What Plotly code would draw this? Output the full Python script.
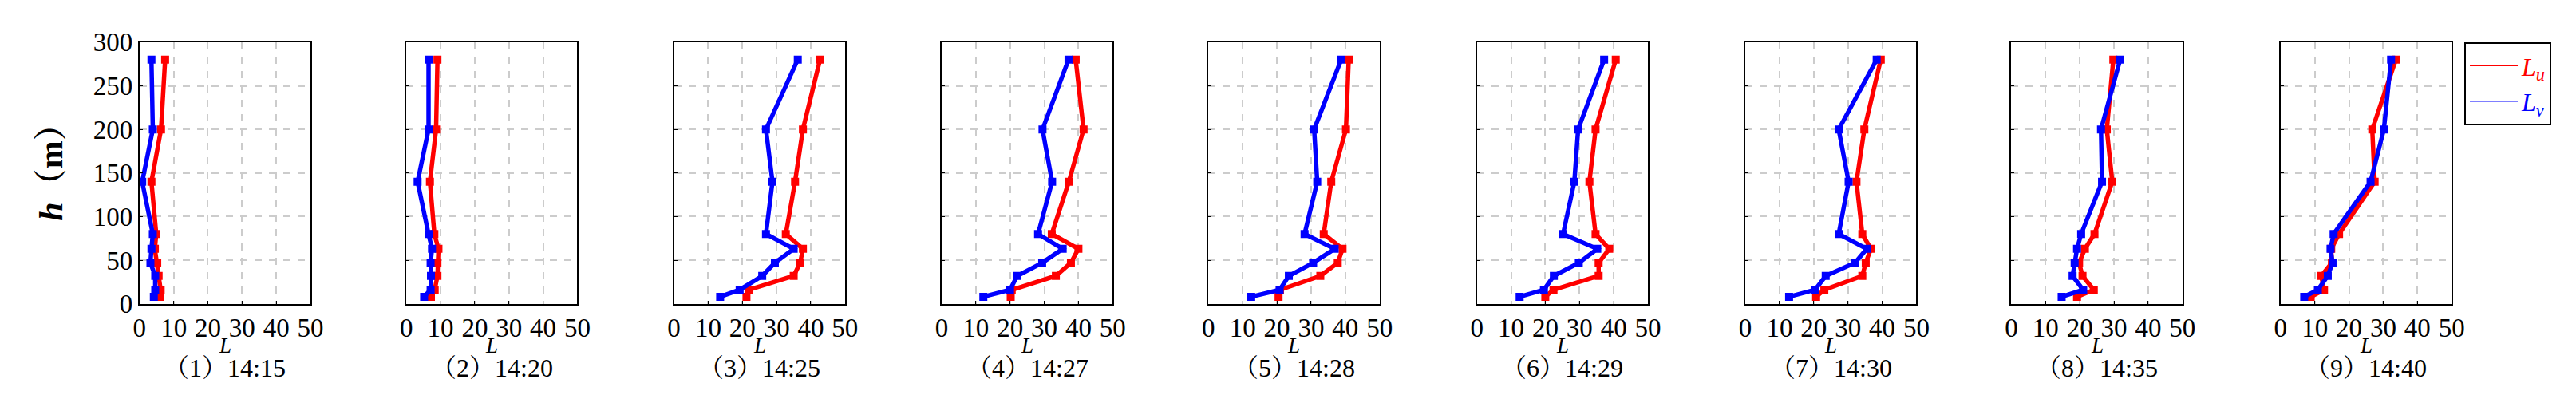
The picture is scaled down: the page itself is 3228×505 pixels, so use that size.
import plotly.graph_objects as go

# heights (m) shared by all profiles
heights = [8, 16, 32, 47, 63, 80, 140, 200, 280]

times = ["14:15", "14:20", "14:25", "14:27", "14:28", "14:29", "14:30", "14:35", "14:40"]

Lu = [
    [6.0, 6.2, 5.6, 5.2, 4.5, 4.9, 3.5, 6.3, 7.5],
    [7.2, 8.3, 9.1, 9.1, 9.4, 8.2, 6.9, 8.7, 9.1],
    [21.2, 21.9, 35.0, 36.9, 37.7, 32.7, 35.4, 37.7, 42.7],
    [20.2, 20.5, 33.4, 37.8, 40.0, 32.2, 37.2, 41.5, 39.2],
    [20.5, 20.9, 32.7, 37.8, 39.2, 33.7, 35.9, 40.2, 41.0],
    [20.0, 22.4, 35.6, 35.6, 38.7, 34.7, 32.9, 34.7, 40.6],
    [20.7, 23.1, 34.2, 35.2, 36.7, 34.2, 32.5, 34.8, 39.6],
    [19.2, 24.1, 20.8, 19.8, 21.5, 24.3, 29.5, 27.9, 29.8],
    [8.8, 12.7, 11.9, 15.0, 14.8, 17.1, 27.5, 26.8, 33.7],
]

Lv = [
    [4.2, 4.6, 4.6, 3.2, 3.5, 3.9, 0.8, 3.9, 3.5],
    [5.2, 7.1, 7.2, 7.1, 7.5, 6.5, 3.3, 6.5, 6.5],
    [13.5, 19.2, 25.8, 29.5, 35.0, 26.9, 28.8, 26.9, 36.2],
    [12.2, 20.0, 22.1, 29.4, 35.4, 28.2, 32.3, 29.5, 37.1],
    [12.5, 20.8, 23.5, 30.6, 36.9, 28.1, 31.8, 30.9, 38.8],
    [12.5, 19.6, 22.5, 29.8, 35.2, 25.2, 28.5, 29.6, 37.2],
    [12.8, 20.4, 23.5, 32.1, 35.5, 27.3, 30.2, 27.3, 38.4],
    [14.7, 21.0, 17.9, 18.5, 19.2, 20.4, 26.5, 26.2, 31.8],
    [6.9, 10.9, 13.8, 15.2, 14.6, 15.5, 26.3, 30.2, 32.3],
]

W, H = 3228, 505
left_px = [160, 497, 835, 1173, 1510, 1849, 2188, 2524, 2864]
panel_w = 216
y_dom = [1 - 383 / H, 1 - 30 / H]
FONT = "Liberation Serif, Noto Serif CJK SC, Noto Sans CJK SC, serif"

fig = go.Figure()
annotations = []

for i in range(9):
    ax = "" if i == 0 else str(i + 1)
    x0 = left_px[i] / W
    x1 = (left_px[i] + panel_w) / W
    for vals, col in ((Lu[i], "red"), (Lv[i], "blue")):
        fig.add_trace(go.Scatter(
            x=vals, y=heights, mode="lines+markers",
            line=dict(color=col, width=5.5),
            marker=dict(symbol="square", size=10, color=col),
            xaxis="x" + ax, yaxis="y" + ax, showlegend=False,
        ))
    fig.update_layout(**{
        "xaxis" + ax: dict(
            domain=[x0, x1], range=[0, 50], tickvals=[0, 10, 20, 30, 40, 50],
            showgrid=True, gridcolor="#cccccc", griddash="dash", gridwidth=1.5,
            showline=True, linecolor="black", linewidth=2, mirror=True,
            ticks="inside", ticklen=4, tickcolor="black", zeroline=False,
            anchor="y" + ax, tickfont=dict(size=33, family=FONT, color="black"),
        ),
        "yaxis" + ax: dict(
            domain=y_dom, range=[0, 300], tickvals=[0, 50, 100, 150, 200, 250, 300],
            showgrid=True, gridcolor="#cccccc", griddash="dash", gridwidth=1.5,
            showline=True, linecolor="black", linewidth=2, mirror=True,
            ticks="inside", ticklen=4, tickcolor="black", zeroline=False,
            anchor="x" + ax, showticklabels=(i == 0),
            tickfont=dict(size=33, family=FONT, color="black"),
        ),
    })
    xc = (x0 + x1) / 2
    annotations.append(dict(
        x=xc, y=1 - 439 / H, xref="paper", yref="paper", showarrow=False,
        xanchor="center", yanchor="middle",
        text="<i>L</i>", font=dict(size=27, family=FONT, color="black"),
    ))
    annotations.append(dict(
        x=xc, y=1 - 469 / H, xref="paper", yref="paper", showarrow=False,
        xanchor="center", yanchor="middle",
        text=f"（{i + 1}）{times[i]}", font=dict(size=32, family=FONT, color="black"),
    ))

annotations.append(dict(
    x=48 / W, y=1 - 195 / H, xref="paper", yref="paper", showarrow=False,
    xanchor="center", yanchor="middle",
    text="<b><i>h</i>（m）</b>", textangle=-90,
    font=dict(size=42, family=FONT, color="black"),
))

# legend entries with thin lines
fig.add_trace(go.Scatter(
    x=[None], y=[None], mode="lines", line=dict(color="red", width=1.5),
    name="<span style='color:red'><i>L</i><sub><i>u</i></sub></span>",
))
fig.add_trace(go.Scatter(
    x=[None], y=[None], mode="lines", line=dict(color="blue", width=1.5),
    name="<span style='color:blue'><i>L</i><sub><i>v</i></sub></span>",
))

fig.update_layout(
    width=W, height=H,
    margin=dict(l=0, r=0, t=0, b=0),
    plot_bgcolor="white", paper_bgcolor="white",
    annotations=annotations,
    legend=dict(
        x=3096 / W, y=1 - 30 / H, xanchor="left", yanchor="top",
        bordercolor="black", borderwidth=2, bgcolor="white",
        font=dict(size=32, family=FONT), itemwidth=60,
        tracegroupgap=0,
    ),
)

fig.write_html("out.html")
